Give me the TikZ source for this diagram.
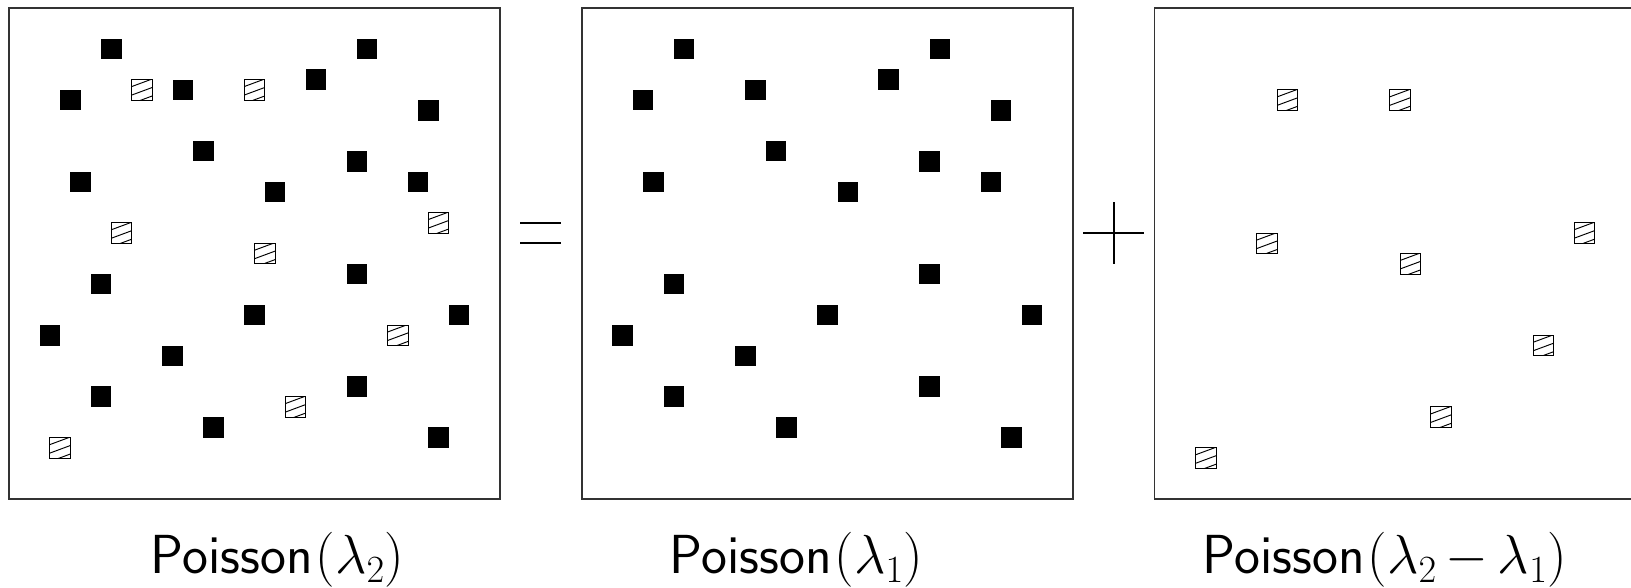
\RequirePackage{fix-cm}
\documentclass[tikz,border=0pt]{standalone}
\begin{document}
\begin{tikzpicture}[x=10.229pt,y=-10.229pt,
  panel/.style={draw=black!80,line width=1.4pt,minimum size=491pt,
    inner sep=0pt,outer sep=0pt},
  dot/.style={minimum size=20.5pt,inner sep=0pt,outer sep=0pt,fill=black,draw=none},
  hdot/.style={minimum size=20.5pt,inner sep=0pt,outer sep=0pt,draw=black,
    line width=0.9pt,fill=white,
    path picture={
      \foreach \c in {13.5,5,-3.5}{
        \draw[line width=0.95pt]
          ([shift={(-2pt,\c pt-0.74pt)}]path picture bounding box.south west)
          -- ++(26pt,9.62pt);
      }
    }},
  lab/.style={anchor=base west,inner sep=0pt,
    font=\fontsize{55}{60}\selectfont\sffamily},
  sym/.style={line width=2pt}
]
\useasboundingbox (-0.88,-0.78) rectangle (158.57,56.70);

% points of the thinned process (solid) and the removed points (hatched)
\def\solidpts{10/4,35/4,6/9,17/8,30/7,41/10,19/14,34/15,7/17,26/18,40/17,
  34/26,9/27,24/30,44/30,4/32,16/34,9/38,34/37,20/41,42/42}
\def\hatchpts{13/8,24/8,11/22,25/24,42/21,38/32,28/39,5/43}

% left panel: all points
\begin{scope}
  \node[panel] (boxA) at (24,24) {};
  \foreach \x/\y [count=\i] in \solidpts {\node[dot] (a\i) at (\x,\y) {};}
  \foreach \x/\y [count=\i] in \hatchpts {\node[hdot] (ah\i) at (\x,\y) {};}
\end{scope}

% middle panel: solid points only
\begin{scope}[shift={(56,0)}]
  \node[panel] (boxB) at (24,24) {};
  \foreach \x/\y [count=\i] in \solidpts {\node[dot] (b\i) at (\x,\y) {};}
\end{scope}

% right panel: hatched points only
\begin{scope}[shift={(112,0)}]
  \node[panel] (boxC) at (24,24) {};
  \foreach \x/\y [count=\i] in \hatchpts {\node[hdot] (c\i) at (\x,\y+1) {};}
\end{scope}

% equals and plus signs between the panels
\draw[sym] (50,21) -- (54,21);
\draw[sym] (50,23) -- (54,23);
\draw[sym] (105,22) -- (111,22);
\draw[sym] (108,19) -- (108,25);

% captions
\node[lab] (capA) at (13.85,55.33) {Poisson\kern3pt$(\lambda_2)$};
\node[lab] (capB) at (64.6,55.33) {Poisson\kern3pt$(\lambda_1)$};
\node[lab] (capC) at (116.7,55.33)
  {Poisson\kern3pt$(\lambda_2\mskip3mu{-}\mskip3mu\lambda_1)$};
\end{tikzpicture}
\end{document}
